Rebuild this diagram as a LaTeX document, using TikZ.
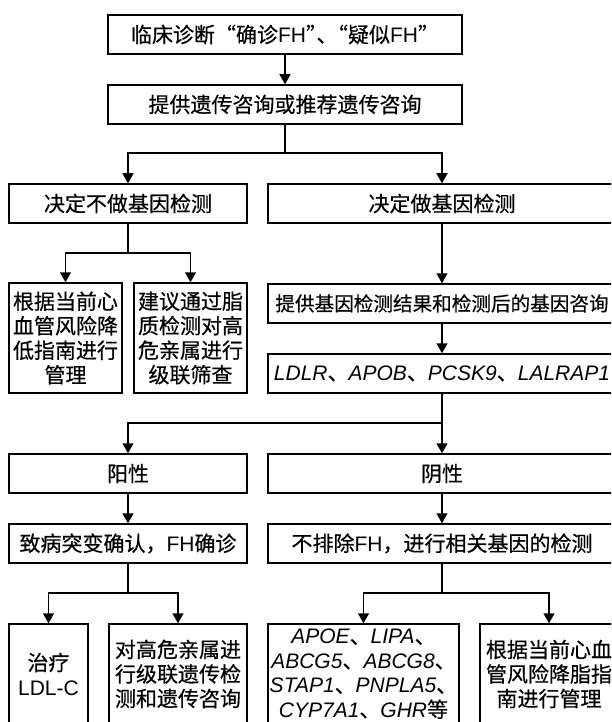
\documentclass[tikz,border=0pt]{standalone}
\usepackage{fontspec}
\setmainfont{Noto Sans CJK SC}[FakeBold=0.5]
\newfontfamily\lat{Liberation Sans}
\usetikzlibrary{arrows.meta}
\newcommand{\en}[1]{{\lat #1}}
\newcommand{\gi}[1]{{\lat\itshape #1}}
\begin{document}
\begin{tikzpicture}[x=1pt,y=-1pt,
  box/.style={draw,line width=1.5pt,rectangle,inner sep=0pt,align=center,font=\fontsize{21}{24.5}\selectfont},
  arr/.style={line width=1.5pt,-{Triangle[length=10pt,width=11pt]}},
  ln/.style={line width=1.5pt}]
\useasboundingbox (0,0) rectangle (611,722);
\clip (0,0) rectangle (611,722);
% boxes
\node[box,minimum width=354pt,minimum height=39pt] (top) at (285,34.5) {临床诊断“确诊\en{FH}”\kern-.5em、\kern-.5em“疑似\en{FH}”};
\node[box,minimum width=354pt,minimum height=39pt] (gc) at (285,104.5) {提供遗传咨询或推荐遗传咨询};
\node[box,minimum width=238pt,minimum height=39pt] (no) at (128,203.5) {决定不做基因检测};
\node[box,minimum width=348pt,minimum height=39pt] (yes) at (442,203.5) {决定做基因检测};
\node[box,minimum width=113pt,minimum height=110pt] (s1) at (65.5,338) {根据当前心\\血管风险降\\低指南进行\\管理};
\node[box,minimum width=113pt,minimum height=110pt] (s2) at (190.5,338) {建议通过脂\\质检测对高\\危亲属进行\\级联筛查};
\node[box,minimum width=348pt,minimum height=39pt,font=\fontsize{19.6}{24}\selectfont] (res) at (442,303.5) {提供基因检测结果和检测后的基因咨询};
\node[box,minimum width=348pt,minimum height=39pt] (gene) at (442,373.5) {\gi{LDLR}、\gi{APOB}、\gi{PCSK9}、\gi{LALRAP1}};
\node[box,minimum width=238pt,minimum height=39pt] (pos) at (128,473.5) {阳性};
\node[box,minimum width=348pt,minimum height=39pt] (neg) at (442,473.5) {阴性};
\node[box,minimum width=238pt,minimum height=39pt] (conf) at (128,543.5) {致病突变确认，\en{FH}确诊};
\node[box,minimum width=348pt,minimum height=39pt] (nex) at (442,543.5) {不排除\en{FH}，进行相关基因的检测};
\node[box,minimum width=79pt,minimum height=100pt] (t1) at (48.5,674) {治疗\\\en{LDL-C}};
\node[box,minimum width=138pt,minimum height=100pt] (t2) at (178,674) {对高危亲属进\\行级联遗传检\\测和遗传咨询};
\node[box,minimum width=191pt,minimum height=100pt] (t3) at (363.5,674) {\gi{APOE}、\gi{LIPA}、\\\gi{ABCG5}、\gi{ABCG8}、\\\gi{STAP1}、\gi{PNPLA5}、\\\gi{CYP7A1}、\gi{GHR}等};
\node[box,minimum width=138pt,minimum height=100pt] (t4) at (549,674) {根据当前心血\\管风险降脂指\\南进行管理};
% junctions
\coordinate (j1) at (285,153);
\coordinate (j2) at (128,253);
\coordinate (j3) at (442,423);
\coordinate (j4) at (128,593);
\coordinate (j5) at (442,593);
% connectors
\draw[arr] (top) -- (gc);
\draw[ln] (gc.south) -- (j1);
\draw[arr] (j1) -| (no.north);
\draw[arr] (j1) -| (yes.north);
\draw[ln] (no.south) -- (j2);
\draw[arr] (j2) -| (s1.north);
\draw[arr] (j2) -| (s2.north);
\draw[arr] (yes) -- (res);
\draw[arr] (res) -- (gene);
\draw[arr] (gene) -- (neg);
\draw[arr] (j3) -| (pos.north);
\draw[arr] (pos) -- (conf);
\draw[arr] (neg) -- (nex);
\draw[ln] (conf.south) -- (j4);
\draw[arr] (j4) -| (t1.north);
\draw[arr] (j4) -| (t2.north);
\draw[ln] (nex.south) -- (j5);
\draw[arr] (j5) -| (t3.north);
\draw[arr] (j5) -| (t4.north);
\end{tikzpicture}
\end{document}
